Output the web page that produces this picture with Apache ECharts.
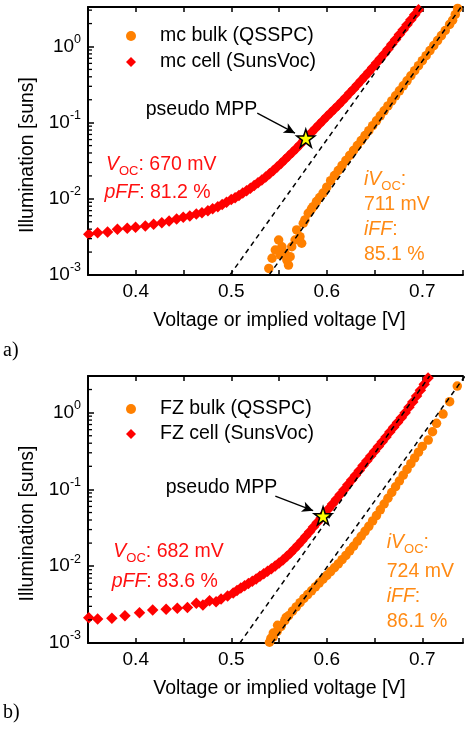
<!DOCTYPE html>
<html><head><meta charset="utf-8">
<script src="https://cdn.jsdelivr.net/npm/echarts@6/dist/echarts.min.js"></script>
<style>html,body{margin:0;padding:0;background:#fff}#c{width:466px;height:733px}</style>
</head><body><div id="c"></div>
<script>
// ---------- tick labels ----------
const xTickLabels = ['0.4', '0.5', '0.6', '0.7'];
const yTickExponents = [-3, -2, -1, 0];
const yMinorFactors = [2, 3, 4, 5, 6, 7, 8, 9];

// ---------- panel a) mc ----------
const mcBulk = [
 [0.5393,0.00122],[0.5427,0.00166],[0.5461,0.00213],[0.5496,0.00288],[0.5513,0.00183],[0.5530,0.00235],
 [0.5564,0.00193],[0.5582,0.00157],[0.5599,0.00135],[0.5616,0.00174],[0.5633,0.00235],[0.5668,0.00288],
 [0.5685,0.00390],[0.5719,0.00318],[0.5737,0.00261],[0.5754,0.00478],[0.5771,0.00528],[0.5806,0.00647],
 [0.5840,0.00740],[0.5857,0.00790],[0.5892,0.00920],[0.5925,0.01040],[0.5961,0.01190],
 [0.600,0.0142],[0.604,0.01730],[0.608,0.02018],[0.612,0.02355],[0.616,0.02742],[0.620,0.03192],
 [0.624,0.03715],[0.628,0.04315],[0.632,0.05012],[0.636,0.05821],[0.640,0.06761],[0.644,0.07852],
 [0.648,0.09120],[0.652,0.1059],[0.656,0.1230],[0.660,0.1429],[0.664,0.1660],[0.668,0.1932],
 [0.672,0.2249],[0.676,0.2618],[0.680,0.3048],[0.684,0.3548],[0.688,0.4130],[0.692,0.4808],
 [0.696,0.5598],[0.700,0.6516],[0.704,0.7586],[0.708,0.8831],[0.712,1.028],[0.716,1.197],
 [0.720,1.393],[0.724,1.622],
 [0.7286,1.95],[0.7317,2.21],[0.7345,2.63],[0.7370,3.16]
];
const mcCell = [
 [0.3508,0.00343],[0.3601,0.00360],[0.3705,0.00367],[0.3808,0.00398],[0.3911,0.00411],[0.3998,0.00424],
 [0.4100,0.00440],[0.4187,0.00464],[0.4273,0.00487],[0.4349,0.00513],[0.4428,0.00544],[0.4497,0.00573],
 [0.4566,0.00596],[0.4634,0.00634],[0.4693,0.00659],[0.4755,0.00700],[0.4805,0.00740],[0.4859,0.00790],
 [0.4905,0.00840],[0.4950,0.00900],
 [0.500,0.00977],[0.504,0.01035],[0.508,0.01109],[0.512,0.01189],[0.516,0.01279],[0.520,0.01380],
 [0.524,0.01493],[0.528,0.01622],[0.532,0.01770],[0.536,0.01941],[0.540,0.02138],[0.544,0.02360],
 [0.548,0.02618],[0.552,0.02917],[0.556,0.03258],[0.560,0.03648],[0.564,0.04093],[0.568,0.04592],
 [0.572,0.05176],[0.576,0.05861],[0.580,0.06607],[0.584,0.07447],[0.588,0.08395],[0.592,0.09462],
 [0.596,0.1067],[0.600,0.1202],[0.604,0.1349],[0.608,0.1514],[0.612,0.1698],[0.616,0.1914],
 [0.620,0.2163],[0.624,0.2443],[0.628,0.2767],[0.632,0.3141],[0.636,0.3565],[0.640,0.4055],
 [0.644,0.4624],[0.648,0.5284],[0.652,0.6053],[0.656,0.6950],[0.660,0.7998],[0.664,0.9226],
 [0.668,1.067],[0.672,1.236],[0.676,1.432],[0.680,1.660],[0.684,1.928],[0.688,2.239],
 [0.692,2.606],[0.696,3.034],[0.700,3.532]
];
const mcCellFit = [[0.4986,0.001],[0.6996,3.3]];
const mcBulkFit = [[0.5396,0.001],[0.7406,3.3]];
const mcMPP = [[0.578,0.0625]];
const mcArrow = [[0.5272,0.1334],[0.5667,0.0728]];
const mcText = {voc:'670 mV', pff:'81.2 %', ivoc:'711 mV', iff:'85.1 %'};

// ---------- panel b) FZ ----------
const fzBulk = [
 [0.5415,0.00115],[0.5440,0.00135],[0.5485,0.00170],[0.5520,0.00165],[0.5575,0.00215],
 [0.540,0.001023],[0.544,0.001202],[0.548,0.001413],[0.552,0.001660],[0.556,0.001950],[0.560,0.002265],
 [0.564,0.002600],[0.568,0.002951],[0.572,0.003350],[0.576,0.003802],[0.580,0.004266],[0.584,0.004786],
 [0.588,0.005370],[0.592,0.006026],[0.596,0.006761],[0.600,0.007586],[0.604,0.008511],[0.608,0.009550],
 [0.612,0.01072],[0.616,0.01216],[0.620,0.01380],[0.624,0.01585],[0.628,0.01820],[0.632,0.02113],
 [0.636,0.02455],[0.640,0.02851],[0.644,0.03311],[0.648,0.03890],[0.652,0.04571],[0.656,0.05433],
 [0.660,0.06457],[0.664,0.07674],[0.668,0.09120],[0.672,0.1084],[0.676,0.1288],[0.680,0.1531],
 [0.684,0.1820],[0.688,0.2163],[0.692,0.2570],[0.696,0.3055],[0.700,0.3631],
 [0.7062,0.4395],[0.7107,0.5636],[0.7149,0.7261],[0.7217,0.9594],[0.7286,1.387],[0.7366,2.218]
];
const fzCell = [
 [0.3508,0.00214],[0.3601,0.00206],[0.3750,0.00210],[0.3887,0.00227],[0.4039,0.00248],[0.4177,0.00269],
 [0.4318,0.00275],[0.4435,0.00283],[0.4541,0.00289],[0.4634,0.00330],[0.4703,0.00313],[0.4773,0.00356],
 [0.4841,0.00345],[0.4893,0.00375],[0.4962,0.00410],
 [0.502,0.004467],[0.506,0.004842],[0.510,0.005188],[0.514,0.005559],[0.518,0.005957],[0.522,0.006383],
 [0.526,0.006839],[0.530,0.007396],[0.534,0.007962],[0.538,0.008590],[0.542,0.009290],[0.546,0.01009],
 [0.550,0.01102],[0.554,0.01208],[0.558,0.01337],[0.562,0.01489],[0.566,0.01671],[0.570,0.01888],
 [0.574,0.02148],[0.578,0.02455],[0.582,0.02818],[0.586,0.03236],[0.590,0.03715],[0.594,0.04246],
 [0.598,0.04853],[0.602,0.05598],[0.606,0.06457],[0.610,0.07464],[0.614,0.08610],[0.618,0.09931],
 [0.622,0.1148],[0.626,0.1324],[0.630,0.1531],[0.634,0.1766],[0.638,0.2042],[0.642,0.2355],
 [0.646,0.2716],[0.650,0.3141],[0.654,0.3631],[0.658,0.4188],[0.662,0.4831],[0.666,0.5585],
 [0.670,0.6457],[0.674,0.7447],[0.678,0.8590],[0.682,1.0],[0.686,1.175],[0.690,1.380],
 [0.694,1.641],[0.698,1.950],[0.702,2.344],[0.706,2.818],[0.710,3.236]
];
const fzCellFit = [[0.509,0.001],[0.7077,3.0]];
const fzBulkFit = [[0.5427,0.001],[0.7448,3.0]];
const fzMPP = [[0.5961,0.0453]];
const fzArrow = [[0.5461,0.0820],[0.5857,0.0528]];
const fzText = {voc:'682 mV', pff:'83.6 %', ivoc:'724 mV', iff:'86.1 %'};

// ---------- styling ----------
const FONT = '"Liberation Sans", Arial, Helvetica, sans-serif';
const SERIF = '"Liberation Serif", "Times New Roman", serif';
const RED = '#ff0000', ORANGE = '#ff8000', RED_TXT = '#ff1010', ORANGE_TXT = '#ff8a14';
const X_MIN = 0.35, X_MAX = 0.7426;
const STAR = 'path://M50,2L61.2,36.5L97.5,36.5L68.2,57.8L79.4,92.3L50,71L20.6,92.3L31.8,57.8L2.5,36.5L38.8,36.5Z';
const panels = [
  {top: 7, height: 268, ymax: 3.3, bulk: mcBulk, cell: mcCell, cellFit: mcCellFit, bulkFit: mcBulkFit, mpp: mcMPP, arrow: mcArrow,
   bulkName: 'mc bulk (QSSPC)', cellName: 'mc cell (SunsVoc)', legendTop: 26, legendGap: 6},
  {top: 376, height: 267, ymax: 3.0, bulk: fzBulk, cell: fzCell, cellFit: fzCellFit, bulkFit: fzBulkFit, mpp: fzMPP, arrow: fzArrow,
   bulkName: 'FZ bulk (QSSPC)', cellName: 'FZ cell (SunsVoc)', legendTop: 399, legendGap: 5}
];

function minorTicks(ymax) {
  const out = [];
  yTickExponents.forEach(e => yMinorFactors.forEach(f => {
    const v = f * Math.pow(10, e);
    if (v <= ymax) out.push([X_MIN, v]);
  }));
  return out;
}

const grid = [], xAxis = [], yAxis = [], series = [], legend = [];
panels.forEach((p, gi) => {
  grid.push({left: 88, top: p.top, width: 380, height: p.height, containLabel: false});
  const axLine = {show: true, onZero: false, lineStyle: {color: '#000', width: 2}};
  xAxis.push({
    type: 'value', gridIndex: gi, min: X_MIN, max: X_MAX, interval: 0.05, position: 'bottom',
    axisLine: axLine,
    axisTick: {show: true, inside: true, length: 5, lineStyle: {color: '#000', width: 1.5}},
    axisLabel: {show: true, margin: 7, fontSize: 19, fontFamily: FONT, color: '#000',
      formatter: v => { const t = v.toFixed(1); return (xTickLabels.indexOf(t) >= 0 && Math.abs(v - parseFloat(t)) < 1e-6) ? t : ''; }},
    splitLine: {show: false},
    name: 'Voltage or implied voltage [V]', nameLocation: 'middle', nameGap: 36,
    nameTextStyle: {fontSize: 19.5, fontFamily: FONT, color: '#000', padding: [0, 0, 0, 8]}
  });
  xAxis.push({
    type: 'value', gridIndex: gi, min: X_MIN, max: X_MAX, interval: 0.05, position: 'top',
    axisLine: axLine,
    axisTick: {show: true, inside: true, length: 5, lineStyle: {color: '#000', width: 1.5}},
    axisLabel: {show: false}, splitLine: {show: false}
  });
  yAxis.push({
    type: 'log', logBase: 10, gridIndex: gi, min: 0.001, max: p.ymax, position: 'left',
    axisLine: axLine,
    axisTick: {show: true, inside: true, length: 6, lineStyle: {color: '#000', width: 1.5}},
    axisLabel: {show: true, margin: 7, fontSize: 19, fontFamily: FONT, color: '#000',
      formatter: v => {
        const l = Math.log10(v), e = Math.round(l);
        if (Math.abs(l - e) > 1e-6 || yTickExponents.indexOf(e) < 0) return '';
        return '{b|10}{s|' + e + '}';
      },
      rich: {
        b: {fontSize: 19, fontFamily: FONT, color: '#000', padding: [4, 0, 4, 0]},
        s: {fontSize: 12.5, fontFamily: FONT, color: '#000', verticalAlign: 'top'}
      }},
    splitLine: {show: false},
    name: 'Illumination [suns]', nameLocation: 'middle', nameGap: 46, nameRotate: 90,
    nameTextStyle: {fontSize: 19.5, fontFamily: FONT, color: '#000', padding: [0, 28, 0, 0]}
  });
  const xi = 2 * gi;
  series.push(
    {name: p.bulkName, type: 'scatter', xAxisIndex: xi, yAxisIndex: gi, data: p.bulk, symbol: 'circle', symbolSize: 9.5,
     itemStyle: {color: ORANGE, opacity: 1}, emphasis: {disabled: true}, z: 2},
    {name: p.cellName, type: 'scatter', xAxisIndex: xi, yAxisIndex: gi, data: p.cell, symbol: 'diamond', symbolSize: 11.5,
     itemStyle: {color: RED, opacity: 1}, emphasis: {disabled: true}, z: 2},
    {type: 'line', xAxisIndex: xi, yAxisIndex: gi, data: p.cellFit, symbol: 'none', silent: true,
     lineStyle: {color: '#000', width: 1.5, type: [5, 4]}, z: 3},
    {type: 'line', xAxisIndex: xi, yAxisIndex: gi, data: p.bulkFit, symbol: 'none', silent: true,
     lineStyle: {color: '#000', width: 1.5, type: [5, 4]}, z: 3},
    {type: 'scatter', xAxisIndex: xi, yAxisIndex: gi, data: p.mpp, symbol: STAR, symbolSize: 18, silent: true,
     itemStyle: {color: '#ffff00', borderColor: '#000', borderWidth: 1.5, opacity: 1}, z: 5,
     markLine: {silent: true, animation: false, symbol: ['none', 'arrow'], symbolSize: [8, 11], label: {show: false},
       lineStyle: {color: '#000', width: 1.3, type: 'solid'},
       data: [[{coord: p.arrow[0]}, {coord: p.arrow[1]}]]}},
    {type: 'scatter', xAxisIndex: xi, yAxisIndex: gi, data: minorTicks(p.ymax), symbol: 'rect', symbolSize: [4, 1.3],
     symbolOffset: [2, 0], itemStyle: {color: '#000', opacity: 1}, clip: false, silent: true, z: 6}
  );
  legend.push({
    data: [p.bulkName, p.cellName], orient: 'vertical', left: 126, top: p.legendTop,
    itemWidth: 10, itemHeight: 10, itemGap: p.legendGap, selectedMode: false, padding: 0,
    textStyle: {fontSize: 19.5, fontFamily: FONT, color: '#000', lineHeight: 20, padding: [0, 0, 0, 19]}
  });
});

const richAnno = {
  i: {fontStyle: 'italic', fontSize: 19.5, fontFamily: FONT},
  n: {fontSize: 19.5, fontFamily: FONT},
  s: {fontSize: 13, fontFamily: FONT, padding: [12, 0, 0, 0]}
};
function txt(x, y, text, color, font) {
  return {type: 'text', x: x, y: y, silent: true,
    style: {text: text, rich: richAnno, fill: color, font: font || ('19.5px ' + FONT), align: 'left', verticalAlign: 'middle'}};
}
const graphic = [
  txt(145.7, 110, 'pseudo MPP', '#000'),
  txt(106, 165, '{i|V}{s|OC}{n|: ' + mcText.voc + '}', RED_TXT),
  txt(104.5, 193, '{i|pFF}{n|: ' + mcText.pff + '}', RED_TXT),
  txt(364, 180, '{i|iV}{s|OC}{n|:}', ORANGE_TXT),
  txt(364, 205, mcText.ivoc, ORANGE_TXT),
  txt(364, 230, '{i|iFF}{n|:}', ORANGE_TXT),
  txt(364, 255, mcText.iff, ORANGE_TXT),
  txt(165.7, 488, 'pseudo MPP', '#000'),
  txt(113.3, 552, '{i|V}{s|OC}{n|: ' + fzText.voc + '}', RED_TXT),
  txt(111.7, 581.7, '{i|pFF}{n|: ' + fzText.pff + '}', RED_TXT),
  txt(386.7, 543, '{i|iV}{s|OC}{n|:}', ORANGE_TXT),
  txt(386.7, 571.7, fzText.ivoc, ORANGE_TXT),
  txt(386.7, 596.7, '{i|iFF}{n|:}', ORANGE_TXT),
  txt(386.7, 621.7, fzText.iff, ORANGE_TXT),
  txt(3, 351, 'a)', '#000', '20px ' + SERIF),
  txt(3, 713, 'b)', '#000', '20px ' + SERIF)
];

const chart = echarts.init(document.getElementById('c'), null, {renderer: 'canvas'});
chart.setOption({
  animation: false, backgroundColor: '#fff',
  grid: grid, xAxis: xAxis, yAxis: yAxis, series: series, legend: legend, graphic: graphic
});
</script></body></html>
